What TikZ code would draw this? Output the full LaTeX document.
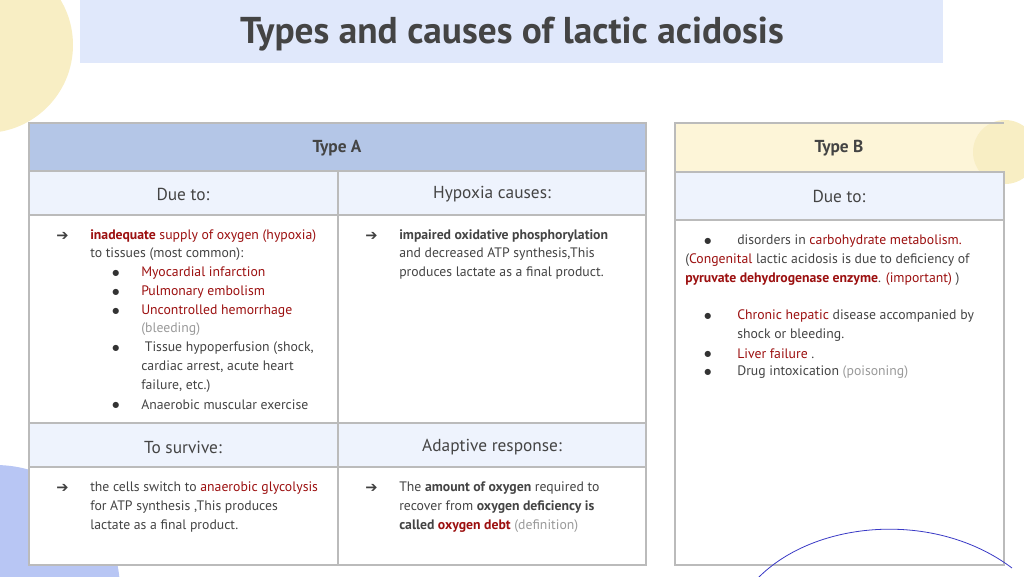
\documentclass[tikz,border=0pt]{standalone}
\usepackage{fontspec}
\setmainfont{PT Sans}
\newfontfamily\sym{DejaVu Sans}
\definecolor{ttl}{HTML}{E0E8FB}
\definecolor{hdA}{HTML}{B4C6E7}
\definecolor{hdB}{HTML}{FDF5D8}
\definecolor{sub}{HTML}{EEF3FD}
\definecolor{grd}{HTML}{BBBBBB}
\definecolor{txt}{HTML}{444444}
\definecolor{red}{HTML}{9C1010}
\definecolor{gry}{HTML}{9A9A9A}
\definecolor{yel}{HTML}{F8EEC4}
\definecolor{lav}{HTML}{B8C6F4}
\begin{document}
\begin{tikzpicture}[x=0.75pt,y=-0.75pt,
  tx/.style={anchor=west,inner sep=0,text=txt,font=\fontsize{10.3}{12}\selectfont},
  hd/.style={text=txt,font=\fontsize{13}{15}\selectfont},
  cell/.style={draw=grd,line width=0.8pt}]
\useasboundingbox (0,0) rectangle (1024,576);
\fill[yel] (-15,45) circle (88);
\fill[lav] (-5,590) circle (125);
\fill[ttl] (80,0) rectangle (943,63);
\node[font=\fontsize{28}{30}\bfseries\selectfont,text=txt] (title) at (512,34) {Types and causes of lactic acidosis};
% Table A
\fill[white] (29,123) rectangle (646,565);
\filldraw[cell,fill=hdA] (29,123) rectangle (646,171);
\filldraw[cell,fill=sub] (29,171) rectangle (338,215);
\filldraw[cell,fill=sub] (338,171) rectangle (646,215);
\draw[cell] (29,215) rectangle (338,423);
\draw[cell] (338,215) rectangle (646,423);
\filldraw[cell,fill=sub] (29,423) rectangle (338,467);
\filldraw[cell,fill=sub] (338,423) rectangle (646,467);
\draw[cell] (29,467) rectangle (338,565);
\draw[cell] (338,467) rectangle (646,565);
\node[hd,font=\fontsize{13}{15}\bfseries\selectfont] (ta) at (337,148) {Type A};
\node[hd] (d1) at (183,194) {Due to:};
\node[hd] (h1) at (492,194) {Hypoxia causes:};
\node[hd] (s1) at (183,447) {To survive:};
\node[hd] (r1) at (492,447) {Adaptive response:};
% Table B
\fill[white] (675,123) rectangle (1004,565);
\filldraw[cell,fill=hdB] (675,123) rectangle (1004,172);
\fill[yel] (1005,152) circle (32);
\filldraw[cell,fill=sub] (675,172) rectangle (1004,220);
\draw[cell] (675,220) rectangle (1004,565);
\draw[cell] (675,123) -- (1004,123);
\node[hd,font=\fontsize{13}{15}\bfseries\selectfont] (tb) at (839,148) {Type B};
\node[hd] (d2) at (839,196) {Due to:};
\draw[blue!55!gray,line width=0.6pt] (758,578) .. controls (815,520) and (935,510) .. (1012,568);
% arrows
\foreach \x/\y [count=\i] in {63/236,372/236,63/488,372/488}
  \node[tx,font=\sym\fontsize{11}{12}\selectfont,text=black!75] (ar\i) at (\x-7,\y) {➔};
% bullets
\foreach \x/\y [count=\i] in {115/273,115/292,115/311,115/348,115/405,707/241,707/316,707/354,707/372}
  \node[tx,font=\sym\fontsize{6}{7}\selectfont,text=black!80] (bu\i) at (\x-3,\y) {●};
% left column
\node[tx] (a1) at (90,236) {\textcolor{red}{\textbf{inadequate} supply of oxygen (hypoxia)}};
\node[tx] (a2) at (90,254) {to tissues (most common):};
\node[tx] (a3) at (141,273) {\textcolor{red}{Myocardial infarction}};
\node[tx] (a4) at (141,292) {\textcolor{red}{Pulmonary embolism}};
\node[tx] (a5) at (141,311) {\textcolor{red}{Uncontrolled hemorrhage}};
\node[tx] (a6) at (141,329) {\textcolor{gry}{(bleeding)}};
\node[tx] (a7) at (141,348) {\ Tissue hypoperfusion (shock,};
\node[tx] (a8) at (141,367) {cardiac arrest, acute heart};
\node[tx] (a9) at (141,386) {failure, etc.)};
\node[tx] (a10) at (141,405) {Anaerobic muscular exercise};
% middle
\node[tx] (m1) at (399,236) {\textbf{impaired oxidative phosphorylation}};
\node[tx] (m2) at (399,254) {and decreased ATP synthesis,This};
\node[tx] (m3) at (399,273) {produces lactate as a final product.};
% bottom
\node[tx] (b1) at (90,488) {the cells switch to \textcolor{red}{anaerobic glycolysis}};
\node[tx] (b2) at (90,507) {for ATP synthesis ,This produces};
\node[tx] (b3) at (90,526) {lactate as a final product.};
\node[tx] (c1) at (399,488) {The \textbf{amount of oxygen} required to};
\node[tx] (c2) at (399,507) {recover from \textbf{oxygen deficiency is}};
\node[tx] (c3) at (399,526) {\textbf{called \textcolor{red}{oxygen debt}} \textcolor{gry}{(definition)}};
% type B
\node[tx] (e1) at (737,241) {disorders in \textcolor{red}{carbohydrate metabolism.}};
\node[tx] (e2) at (685,260) {(\textcolor{red}{Congenital} lactic acidosis is due to deficiency of};
\node[tx] (e3) at (685,279) {\textcolor{red}{\textbf{pyruvate dehydrogenase enzyme}}. \textcolor{red}{(important)} )};
\node[tx] (e4) at (737,316) {\textcolor{red}{Chronic hepatic} disease accompanied by};
\node[tx] (e5) at (737,335) {shock or bleeding.};
\node[tx] (e6) at (737,354) {\textcolor{red}{Liver failure} .};
\node[tx] (e7) at (737,372) {Drug intoxication \textcolor{gry}{(poisoning)}};
\end{tikzpicture}
\end{document}
